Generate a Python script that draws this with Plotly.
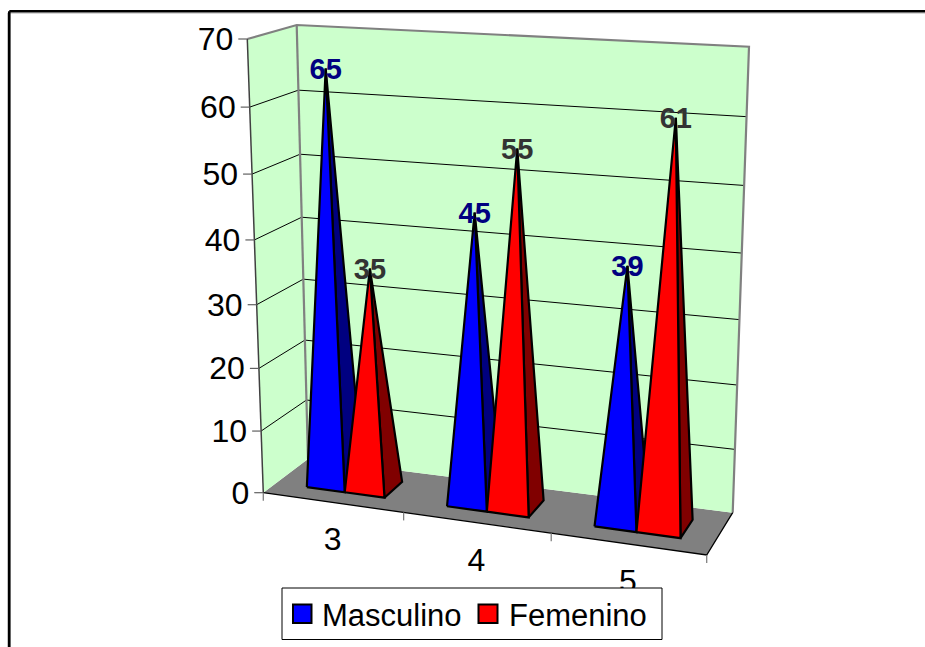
import plotly.graph_objects as go

# Chart values
grades = ["3", "4", "5"]
masculino = [65, 45, 39]
femenino = [35, 55, 61]
value_ticks = [0, 10, 20, 30, 40, 50, 60, 70]
series_names = ["Masculino", "Femenino"]

# Box corners of the oblique 3D scene, in canvas pixels
FLB, FRB = (263.3, 492.7), (706.7, 555.0)
BLB, BRB = (308.0, 459.0), (732.7, 512.7)
FLT, FRT = (247.3, 39.0), (724.0, 68.0)
BLT, BRT = (296.7, 25.0), (749.0, 46.7)

WIDTH, HEIGHT = 925, 647
VALUE_MAX = 70
FONT = "Liberation Sans"


def warp(t, r):
    return t / (r + (1 - r) * t)


def project(cat, depth, value):
    """Map (category position, depth 0..1, value) to canvas pixels."""
    s = warp(cat / len(grades), 1.08)
    h = warp(value / VALUE_MAX, 1.06)
    out = []
    for i in (0, 1):
        bottom_front = FLB[i] + (FRB[i] - FLB[i]) * s
        bottom_back = BLB[i] + (BRB[i] - BLB[i]) * s
        top_front = FLT[i] + (FRT[i] - FLT[i]) * s
        top_back = BLT[i] + (BRT[i] - BLT[i]) * s
        bottom = bottom_front + (bottom_back - bottom_front) * depth
        top = top_front + (top_back - top_front) * depth
        out.append(bottom + (top - bottom) * h)
    return tuple(out)


fig = go.Figure()


def polygon(points, fill, line_color=None, line_width=0):
    xs = [p[0] for p in points] + [points[0][0]]
    ys = [p[1] for p in points] + [points[0][1]]
    fig.add_trace(go.Scatter(
        x=xs, y=ys, mode="lines", fill="toself", fillcolor=fill,
        line=dict(color=line_color or fill, width=line_width),
        hoverinfo="skip", showlegend=False))


def polyline(points, color, width):
    fig.add_trace(go.Scatter(
        x=[p[0] for p in points], y=[p[1] for p in points], mode="lines",
        line=dict(color=color, width=width), hoverinfo="skip", showlegend=False))


def text_at(x, y, text, size, color="#000000", bold=False, position="middle center"):
    fig.add_trace(go.Scatter(
        x=[x], y=[y], mode="text", text=[f"<b>{text}</b>" if bold else text],
        textposition=position,
        textfont=dict(family=FONT, size=size, color=color),
        hoverinfo="skip", showlegend=False))


n_cat = len(grades)

# Floor and walls
WALL = "#CCFFCC"
polygon([project(0, 0, 0), project(n_cat, 0, 0), project(n_cat, 1, 0), project(0, 1, 0)], "#808080")
polygon([project(0, 0, 0), project(0, 1, 0), project(0, 1, VALUE_MAX), project(0, 0, VALUE_MAX)], WALL)
polygon([project(0, 1, 0), project(n_cat, 1, 0), project(n_cat, 1, VALUE_MAX), project(0, 1, VALUE_MAX)], WALL)

# Gridlines across both walls
for v in value_ticks[1:-1]:
    polyline([project(0, 0, v), project(0, 1, v), project(n_cat, 1, v)], "#000000", 1)

# Wall outlines
polyline([project(0, 0, VALUE_MAX), project(0, 1, VALUE_MAX), project(n_cat, 1, VALUE_MAX),
          project(n_cat, 1, 0)], "#808080", 2.2)
polyline([project(0, 1, VALUE_MAX), project(0, 1, 0)], "#808080", 2.2)
polyline([project(0, 0, VALUE_MAX), project(0, 0, 0)], "#404040", 1.5)

# Floor front and right edges
polyline([project(0, 0, 0), project(n_cat, 0, 0), project(n_cat, 1, 0)], "#000000", 1.3)

# Axis tick stubs and labels
for v in value_ticks:
    x, y = project(0, 0, v)
    polyline([(x - 9, y), (x, y)], "#606060", 1.2)
    text_at(x - 14, y + 3, str(v), 32, position="middle left")
for c in range(n_cat + 1):
    x, y = project(c, 0, 0)
    polyline([(x, y), (x, y + 8)], "#808080", 1.3)
for c, label in enumerate(grades):
    x, y = project(c + 0.5, 0, 0)
    text_at(x, y + 40, label, 32)

# Pyramids, back to front within each category
D0, D1 = 0.29, 0.73
SLOTS = [(0.225, 0.5), (0.5, 0.785)]
COLORS = [("#0000FF", "#000080"), ("#FF0000", "#800000")]
LABEL_COLORS = ["#000080", "#333333"]
labels = []
for c in range(n_cat):
    for k, values in enumerate((masculino, femenino)):
        a, b = c + SLOTS[k][0], c + SLOTS[k][1]
        mid = (a + b) / 2
        apex = project(mid, (D0 + D1) / 2, values[c])
        front_left = project(a, D0, 0)
        front_right = project(b, D0, 0)
        back_right = project(b, D1, 0)
        polygon([front_right, back_right, apex], COLORS[k][1], "#000000", 2.2)
        polygon([front_left, front_right, apex], COLORS[k][0], "#000000", 2.2)
        labels.append((apex, values[c], LABEL_COLORS[k]))

# Value labels sit on the pyramid tips
for apex, value, color in labels:
    text_at(apex[0], apex[1] + 3, str(value), 29, color, bold=True)

# Legend box, frame and swatches
shapes = [
    dict(type="rect", x0=282, y0=588, x1=662, y1=639.5, fillcolor="#FFFFFF",
         line=dict(color="#000000", width=1), layer="above"),
    dict(type="rect", x0=293, y0=604.5, x1=311.5, y1=623, fillcolor=COLORS[0][0],
         line=dict(color="#000000", width=2), layer="above"),
    dict(type="rect", x0=478.5, y0=604.5, x1=497.5, y1=623, fillcolor=COLORS[1][0],
         line=dict(color="#000000", width=2), layer="above"),
    dict(type="line", x0=7.5, y0=13.2, x1=WIDTH, y1=13.2, line=dict(color="#C4C4C4", width=1), layer="above"),
    dict(type="line", x0=7.5, y0=13, x1=7.5, y1=HEIGHT, line=dict(color="#C4C4C4", width=1), layer="above"),
    dict(type="line", x0=9.3, y0=11.3, x1=WIDTH, y1=11.3, line=dict(color="#000000", width=2.6), layer="above"),
    dict(type="line", x0=9.3, y0=11.3, x1=9.3, y1=HEIGHT, line=dict(color="#000000", width=2.6), layer="above"),
]
annotations = [
    dict(x=320, y=615, text=series_names[0], xanchor="left", yanchor="middle", showarrow=False,
         font=dict(family=FONT, size=31, color="#000000")),
    dict(x=506.5, y=615, text=series_names[1], xanchor="left", yanchor="middle", showarrow=False,
         font=dict(family=FONT, size=31, color="#000000")),
]

fig.update_layout(
    width=WIDTH, height=HEIGHT, margin=dict(l=0, r=0, t=0, b=0),
    paper_bgcolor="#FFFFFF", plot_bgcolor="#FFFFFF", showlegend=False,
    xaxis=dict(range=[0, WIDTH], visible=False, fixedrange=True),
    yaxis=dict(range=[HEIGHT, 0], visible=False, fixedrange=True),
    shapes=shapes, annotations=annotations,
)

fig.write_html("out.html", config={"displayModeBar": False})
